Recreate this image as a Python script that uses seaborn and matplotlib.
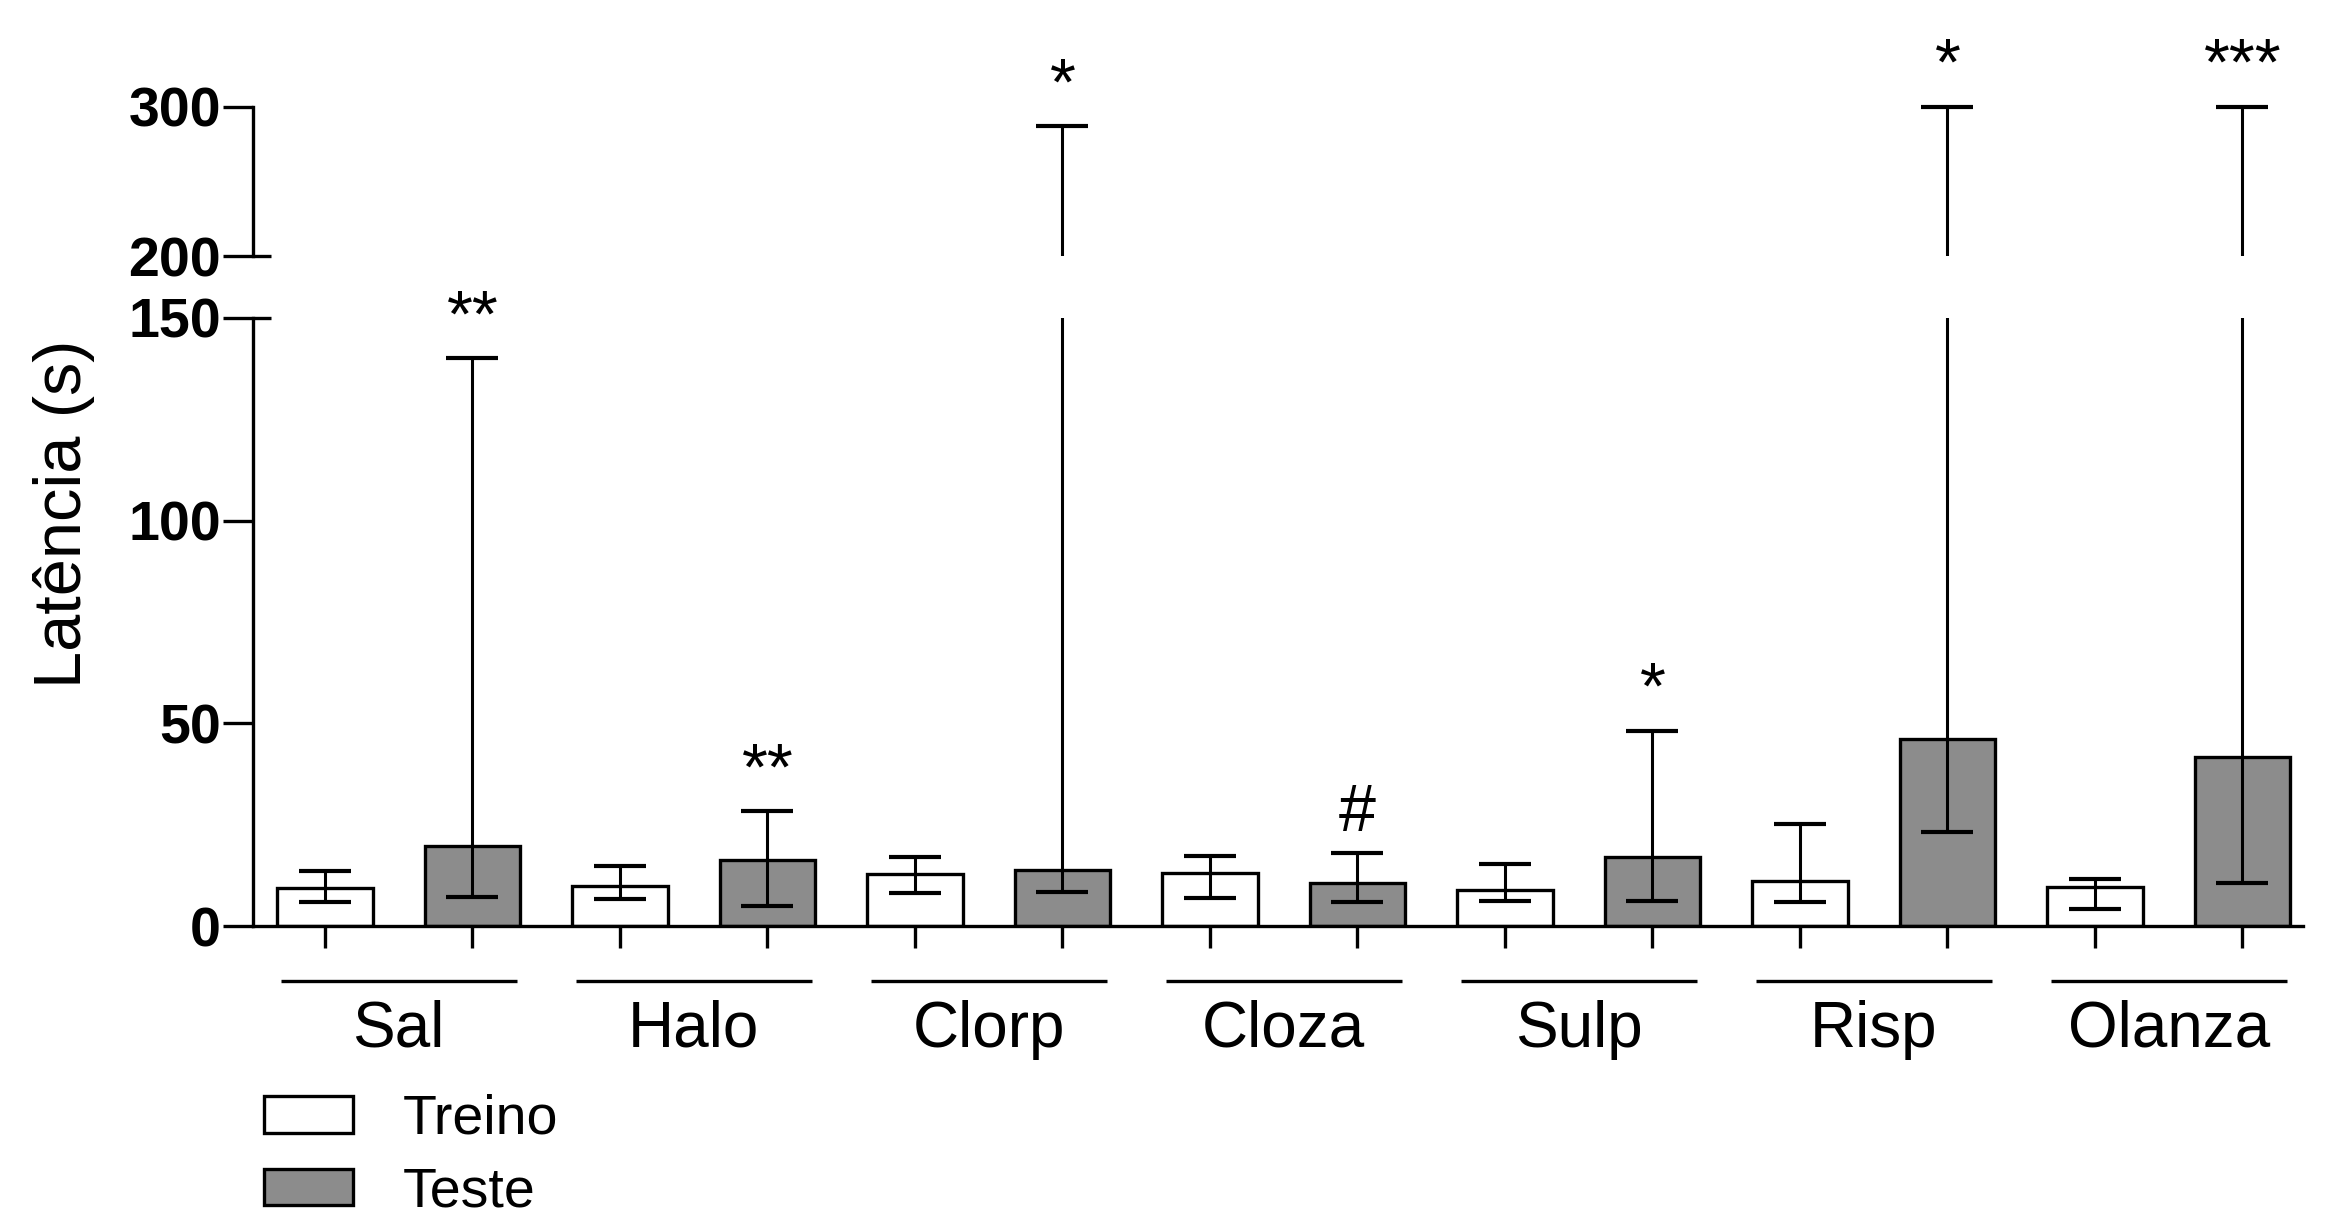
import numpy as np
import pandas as pd
import matplotlib
matplotlib.use("Agg")
import matplotlib.pyplot as plt
import matplotlib.transforms as mtransforms
from matplotlib.patches import Patch
import seaborn as sns

# Latency (s): median with interquartile range per group and session
groups = ["Sal", "Halo", "Clorp", "Cloza", "Sulp", "Risp", "Olanza"]
phases = ["Treino", "Teste"]

treino_median = [9.4, 9.9, 12.9, 13.0, 9.0, 11.1, 9.7]
treino_low = [5.9, 6.7, 8.1, 7.0, 6.2, 5.9, 4.2]
treino_high = [13.6, 14.7, 16.9, 17.3, 15.3, 25.1, 11.5]

teste_median = [19.7, 16.4, 13.8, 10.7, 17.0, 46.2, 41.7]
teste_low = [7.1, 5.0, 8.5, 5.9, 6.2, 23.3, 10.6]
teste_high = [140.0, 28.3, 287.0, 17.9, 48.1, 300.0, 300.0]

teste_marks = ["**", "**", "*", "#", "*", "*", "***"]

fill_colors = {"Treino": "white", "Teste": "#8c8c8c"}

sns.set_theme(style="ticks")
plt.rcParams["font.family"] = ["Liberation Sans", "DejaVu Sans"]
plt.rcParams.update({
    "text.color": "black",
    "axes.labelcolor": "black",
    "axes.edgecolor": "black",
    "xtick.color": "black",
    "ytick.color": "black",
    "xtick.labelcolor": "black",
    "ytick.labelcolor": "black",
})

LW = 2.4
fig = plt.figure(figsize=(23.38, 12.21), dpi=100)
ax_lo = fig.add_axes([0.1082, 0.2416, 0.8768, 0.498])
ax_hi = fig.add_axes([0.1082, 0.7903, 0.8768, 0.1282], sharex=ax_lo)

df = pd.DataFrame({
    "Grupo": groups * 2,
    "Fase": ["Treino"] * len(groups) + ["Teste"] * len(groups),
    "Latencia": treino_median + teste_median,
})

sns.barplot(data=df, x="Grupo", y="Latencia", hue="Fase", order=groups,
            hue_order=phases, palette=fill_colors, saturation=1,
            width=1.0, gap=0.355, edgecolor="black", linewidth=LW,
            errorbar=None, legend=False, ax=ax_lo, zorder=2)

# whiskers on both halves of the broken axis
stats = [(treino_median, treino_low, treino_high),
         (teste_median, teste_low, teste_high)]
centers = []
for k, (med, lo, hi) in enumerate(stats):
    bars = sorted(ax_lo.containers[k], key=lambda p: p.get_x())
    xs = [p.get_x() + p.get_width() / 2 for p in bars]
    centers.append(xs)
    err = [np.subtract(med, lo), np.subtract(hi, med)]
    for ax in (ax_lo, ax_hi):
        ax.errorbar(xs, med, yerr=err, fmt="none", ecolor="black",
                    elinewidth=2.2, capsize=19, capthick=3.0, zorder=3)

# significance marks above the Teste whiskers
for x, top, mark in zip(centers[1], teste_high, teste_marks):
    ax = ax_lo if top <= 150 else ax_hi
    ax.annotate(mark, xy=(x, top), xytext=(0, 16), textcoords="offset points",
                ha="center", va="baseline", fontsize=48, color="black")

# lower axis
ax_lo.set_ylim(0, 150)
ax_lo.set_xlim(-0.494, 6.455)
ax_lo.set_yticks([0, 50, 100, 150])
ax_lo.yaxis.remove_overlapping_locs = False
ax_lo.set_yticks([150], minor=True)
all_centers = sorted(centers[0] + centers[1])
ax_lo.set_xticks(all_centers, labels=[""] * len(all_centers))
ax_lo.set_xlabel("")
ax_lo.set_ylabel("")
for s in ("top", "right"):
    ax_lo.spines[s].set_visible(False)
ax_lo.spines["left"].set_linewidth(LW)
ax_lo.spines["bottom"].set_linewidth(LW)

# upper axis
ax_hi.set_ylim(200, 305)
ax_hi.set_yticks([200, 300])
ax_hi.yaxis.remove_overlapping_locs = False
ax_hi.set_yticks([200], minor=True)
for s in ("top", "right", "bottom"):
    ax_hi.spines[s].set_visible(False)
ax_hi.spines["left"].set_linewidth(LW)
ax_hi.spines["left"].set_bounds(200, 300)
ax_hi.tick_params(axis="x", which="both", bottom=False, labelbottom=False)

for ax in (ax_lo, ax_hi):
    ax.set_facecolor("white")
    ax.tick_params(axis="y", which="major", direction="out", length=21.6,
                   width=LW, pad=1.5, labelsize=40, color="black",
                   labelcolor="black")
    ax.tick_params(axis="y", which="minor", direction="in", length=13,
                   width=LW, color="black")
    for lab in ax.get_yticklabels():
        lab.set_fontweight("bold")
ax_lo.tick_params(axis="x", which="major", direction="out", length=16,
                  width=LW, color="black")

# group brackets and names under the axis
trans = mtransforms.blended_transform_factory(ax_lo.transData, ax_lo.transAxes)
for i, g in enumerate(groups):
    ax_lo.plot([i - 0.40, i + 0.40], [-0.0905, -0.0905], transform=trans,
               clip_on=False, color="black", lw=LW, solid_capstyle="butt")
    ax_lo.text(i, -0.171, g, transform=trans, ha="center", va="center",
               fontsize=46, color="black")

fig.text(64 / 2338, 0.579, "Latência (s)", rotation=90, ha="center",
         va="center", fontsize=48, color="black")

handles = [Patch(facecolor=fill_colors[p], edgecolor="black", linewidth=LW,
                 label=p) for p in phases]
fig.legend(handles=handles, loc="upper left",
           bbox_to_anchor=(264 / 2338, 1 - 1094 / 1221), frameon=False,
           fontsize=40, handlelength=1.6, handleheight=0.63,
           handletextpad=0.9, labelspacing=0.37, borderpad=0,
           borderaxespad=0, labelcolor="black")

fig.savefig("out.png", dpi=100, facecolor="white")
